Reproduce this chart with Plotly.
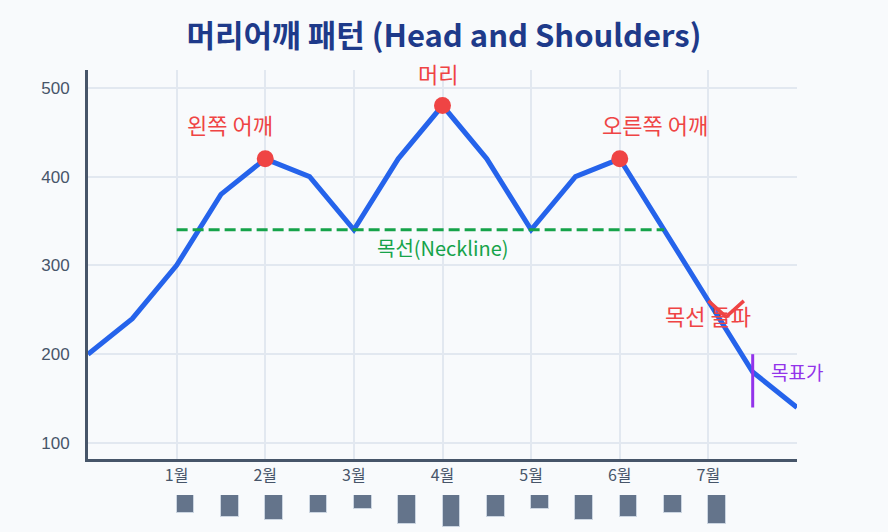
import plotly.graph_objects as go

# ---- data ----
x_idx = list(range(17))
prices = [200, 240, 300, 380, 420, 400, 340, 420, 480, 420, 340, 400, 420, 340, 260, 180, 140]

month_ticks = [2, 4, 6, 8, 10, 12, 14]
month_labels = ["1월", "2월", "3월", "4월", "5월", "6월", "7월"]

vol_x = [2, 3, 4, 5, 6, 7, 8, 9, 10, 11, 12, 13, 14]
volumes = [50, 60, 70, 50, 40, 80, 90, 60, 40, 70, 60, 50, 80]

neck_x = [2, 13]
neck_y = [340, 340]

peak_x = [4, 8, 12]
peak_y = [420, 480, 420]

peak_labels = ["왼쪽 어깨", "머리", "오른쪽 어깨"]
label_x = [3.2, 7.9, 12.8]
label_shift = [35, 33, 35]

break_x = [14.0, 14.4, 14.8]
break_y = [260, 242, 260]

target_x = [15, 15]
target_y = [140, 200]

BG = "#f8fafc"
GRID = "#e2e8f0"
AXIS = "#475569"
KR = "Noto Sans CJK KR"

fig = go.Figure()

fig.add_trace(go.Scatter(x=x_idx, y=prices, mode="lines",
                         line=dict(color="#2563eb", width=5), showlegend=False,
                         hoverinfo="skip"))
fig.add_trace(go.Scatter(x=neck_x, y=neck_y, mode="lines",
                         line=dict(color="#16a34a", width=3, dash="11px,5px"),
                         showlegend=False, hoverinfo="skip"))
fig.add_trace(go.Scatter(x=peak_x, y=peak_y, mode="markers",
                         marker=dict(color="#ef4444", size=17), showlegend=False))
fig.add_trace(go.Scatter(x=break_x, y=break_y, mode="lines",
                         line=dict(color="#ef4444", width=3.5), showlegend=False))
fig.add_trace(go.Scatter(x=target_x, y=target_y, mode="lines",
                         line=dict(color="#9333ea", width=3), showlegend=False))

fig.add_trace(go.Bar(x=vol_x, y=volumes, xaxis="x2", yaxis="y2",
                     width=0.4, offset=0,
                     marker=dict(color="#64748b", line=dict(color="#cbd5e1", width=1)),
                     showlegend=False))

for t, xx, yy, sh in zip(peak_labels, label_x, peak_y, label_shift):
    fig.add_annotation(x=xx, y=yy, text=t, showarrow=False, yshift=sh,
                       font=dict(family=KR, size=22, color="#ef4444"))

fig.add_annotation(x=8, y=320, text="목선(Neckline)", showarrow=False,
                   font=dict(family=KR, size=20, color="#16a34a"))
fig.add_annotation(x=14, y=244, text="목선 돌파", showarrow=False,
                   font=dict(family=KR, size=22, color="#ef4444"))
fig.add_annotation(x=16, y=180, text="목표가", showarrow=False,
                   font=dict(family=KR, size=19, color="#9333ea"))

fig.update_layout(
    width=888, height=532,
    margin=dict(l=88, r=91, t=70, b=0),
    paper_bgcolor=BG, plot_bgcolor=BG,
    title=dict(text="<b>머리어깨 패턴 (Head and Shoulders)</b>",
               x=0.5, xanchor="center", y=1 - 36 / 532, yanchor="middle",
               font=dict(family=KR, size=31, color="#1e3a8a")),
    xaxis=dict(range=[0, 16], tickvals=month_ticks, ticktext=month_labels,
               showgrid=True, gridcolor=GRID, gridwidth=1.5, zeroline=False,
               showline=True, linecolor=AXIS, linewidth=3, anchor="y",
               ticklabelstandoff=0,
               tickfont=dict(family=KR, size=16, color=AXIS)),
    yaxis=dict(range=[82, 520], domain=[73 / 462, 1], tickvals=[100, 200, 300, 400, 500],
               showgrid=True, gridcolor=GRID, gridwidth=1.5, zeroline=False,
               showline=True, linecolor=AXIS, linewidth=3,
               ticklabelstandoff=12,
               tickfont=dict(family="Liberation Sans", size=17, color=AXIS)),
    xaxis2=dict(range=[0, 16], anchor="y2", visible=False,
                showgrid=False, zeroline=False),
    yaxis2=dict(range=[102.8, 0], domain=[0, 37 / 462], visible=False,
                showgrid=False, zeroline=False),
    bargap=0,
)

fig.write_html("out.html", config={"displayModeBar": False},
               post_script="document.body.style.margin='0';document.body.style.background='#f8fafc';")
